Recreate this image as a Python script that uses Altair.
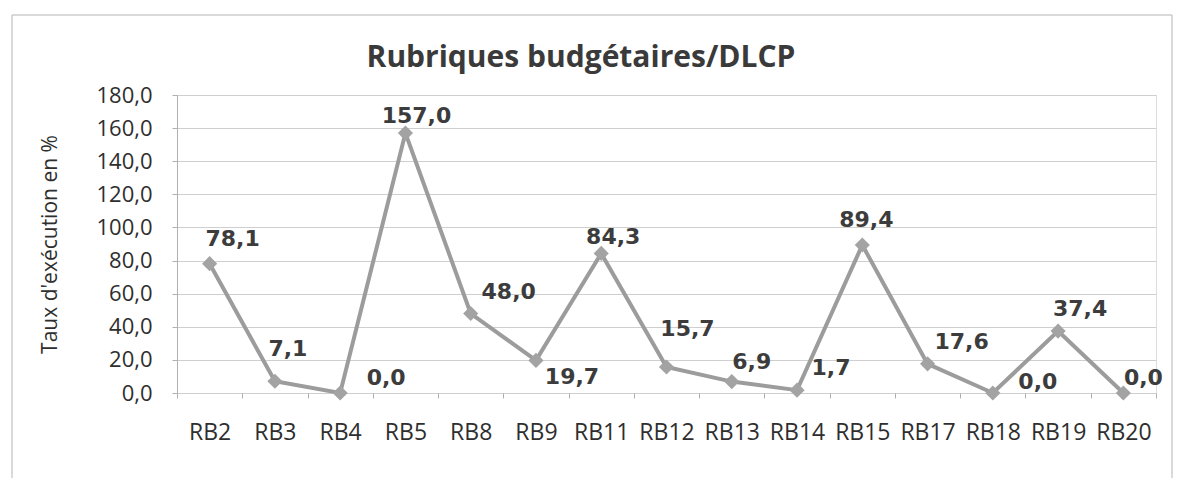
import altair as alt
import pandas as pd

title_text = "Rubriques budgétaires/DLCP"
categories = ["RB2", "RB3", "RB4", "RB5", "RB8", "RB9", "RB11", "RB12",
              "RB13", "RB14", "RB15", "RB17", "RB18", "RB19", "RB20"]
values = [78.1, 7.1, 0.0, 157.0, 48.0, 19.7, 84.3, 15.7, 6.9, 1.7, 89.4, 17.6, 0.0, 37.4, 0.0]
y_ticks = [0, 20, 40, 60, 80, 100, 120, 140, 160, 180]

df = pd.DataFrame({"cat": categories, "v": values})

# label offsets (pixels) relative to each marker, as placed in the original chart
label_offsets = {
    "RB2": (23, -25), "RB3": (13, -32), "RB4": (46, -15), "RB5": (11, -17),
    "RB8": (38, -22), "RB9": (36, 17), "RB11": (12, -16), "RB12": (21, -38),
    "RB13": (20, -20), "RB14": (34, -22), "RB15": (4, -25), "RB17": (34, -22),
    "RB18": (45, -11), "RB19": (22, -22), "RB20": (20, -15),
}

base = alt.Chart(df).transform_calculate(
    lbl="replace(format(datum.v, '.1f'), '.', ',')"
)

x_enc = alt.X(
    "cat:N", sort=categories,
    scale=alt.Scale(type="band", paddingInner=0, paddingOuter=0),
    axis=alt.Axis(
        title=None, labelAngle=0, labelFont="Open Sans", labelFontSize=23,
        labelColor="#2e2e2e", labelPadding=23, tickBand="extent", tickSize=5,
        tickColor="#b0b0b0", domain=False, grid=False,
    ),
)
y_enc = alt.Y(
    "v:Q",
    scale=alt.Scale(domain=[0, 180], nice=False),
    axis=alt.Axis(
        values=y_ticks, title="Taux d'exécution en %",
        titleFont="Open Sans", titleFontSize=21, titleFontWeight="normal",
        titleColor="#2e2e2e", titleX=-127, titleY=149, titleAngle=270,
        titleAlign="center", titleBaseline="middle",
        labelExpr="replace(format(datum.value, '.1f'), '.', ',')",
        labelFont="Open Sans", labelFontSize=22, labelColor="#2e2e2e",
        labelPadding=20, labelOverlap=False, tickSize=5, tickColor="#b0b0b0",
        domainColor="#b0b0b0", gridColor="#cfcfcf", gridWidth=1,
    ),
)

border = alt.Chart(df).mark_rect(fill=None, stroke="#b5b5b5", strokeWidth=1).encode(
    x=alt.value(-165), x2=alt.value(995), y=alt.value(-80), y2=alt.value(395)
).transform_filter("datum.cat == 'RB2'")

title = alt.Chart(pd.DataFrame({"t": [title_text]})).mark_text(
    font="Open Sans", fontSize=30, fontWeight="bold", color="#3a3a3a",
    align="center", baseline="alphabetic",
).encode(x=alt.value(404), y=alt.value(-28), text="t:N")

line = base.mark_line(color="#9c9c9c", strokeWidth=4).encode(x=x_enc, y=y_enc)
points = base.mark_point(
    shape="diamond", filled=True, size=230, color="#a3a3a3", opacity=1
).encode(x=x_enc, y=y_enc)

label_layers = []
for c in categories:
    dx, dy = label_offsets[c]
    label_layers.append(
        base.transform_filter(alt.datum.cat == c).mark_text(
            font="DejaVu Sans", fontWeight="bold", fontSize=22, color="#3c3c3c",
            align="center", baseline="middle", dx=dx, dy=dy,
        ).encode(x=x_enc, y=y_enc, text="lbl:N")
    )

chart = alt.layer(border, title, line, points, *label_layers).properties(
    width=979, height=298,
    padding={"left": 169, "top": 87, "right": 18, "bottom": 85},
    autosize=alt.AutoSizeParams(type="none"),
).configure_view(stroke=None).configure(background="white")

chart.save("out.html", embed_options={"renderer": "svg", "actions": False})
